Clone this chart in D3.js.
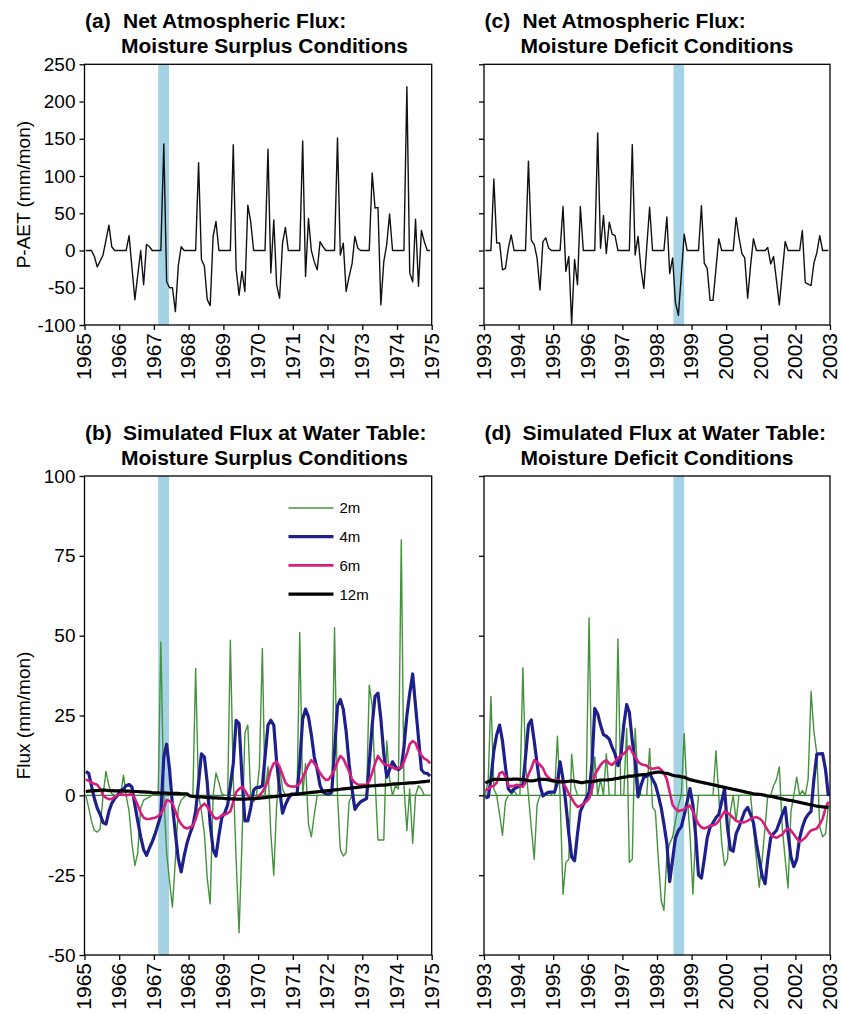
<!DOCTYPE html>
<html>
<head>
<meta charset="utf-8">
<script src="https://cdn.jsdelivr.net/npm/d3@7"></script>
<style>
body { margin: 0; background: #fff; }
svg { display: block; }
</style>
</head>
<body>
<script>
// tick labels / categories
const surplusYears = [1965, 1966, 1967, 1968, 1969, 1970, 1971, 1972, 1973, 1974, 1975];
const deficitYears = [1993, 1994, 1995, 1996, 1997, 1998, 1999, 2000, 2001, 2002, 2003];
const netFluxTicks = [-100, -50, 0, 50, 100, 150, 200, 250];
const waterTableTicks = [-50, -25, 0, 25, 50, 75, 100];
const depthLabels = ["2m", "4m", "6m", "12m"];
const surplusBand = ["1967-02-15", "1967-06-09"];
const deficitBand = ["1998-06-24", "1998-10-15"];

// monthly P-AET (mm/mon), one row per year
const surplusNet = [
  0, 0, 0, -8, -22, -14, -6, 14, 34, 5, 0, 0,
  0, 0, 0, 20, -23, -66, -33, 0, -46, 8, 5, 0,
  0, 0, 0, 143, -42, -50, -50, -82, -20, 5, 0, 0,
  0, 0, 0, 118, -12, -21, -66, -74, 19, 39, 0, 0,
  0, 0, 0, 142, -25, -60, -28, -55, 61, 39, 0, 0,
  0, 0, 0, 136, -30, 41, -46, -64, 10, 31, 0, 0,
  0, 0, 0, 147, -35, 43, 0, -15, -26, 12, 5, 0,
  0, 0, 0, 151, -6, 10, -55, -35, -18, 19, 3, 0,
  0, 0, 0, 104, 57, 58, -73, -15, 8, 49, 0, 0,
  0, 0, 0, 220, -30, -42, 42, -48, 27, 12, 0, 0
];
const deficitNet = [
  0, 0, 0, 96, 10, 10, -26, -24, 3, 21, 0, 0,
  0, 0, 0, 120, 14, 8, -10, -53, 12, 17, 3, 0,
  0, 0, 0, 59, -28, -8, -99, -12, -46, 59, 0, 0,
  0, 0, 0, 158, 3, 47, -4, 38, 22, 20, 0, 0,
  0, 0, 0, 142, -6, 19, -24, -51, 5, 58, 0, 0,
  0, 0, 0, 45, -31, -10, -70, -87, -32, 22, 0, 0,
  0, 0, 0, 60, -17, -24, -67, -67, -25, 16, 0, 0,
  0, 0, 0, 44, 18, -4, -10, -64, -20, 16, 0, 0,
  0, 0, 4, -18, -8, -40, -73, -30, 12, 0, 0, 0,
  0, 0, 27, -43, -45, -47, -17, -3, 20, 0, 0, 0
];

// simulated flux at water table (mm/mon), surplus period 1965-1974
const surplus2m = [
  0, -4, -8, -11, -11.5, -10.5, 0, 7.5, 3, 0.5, 0, 0,
  0, 6.3, 0, -5, -15, -22, -18, -4, -1.5, -1, -0.5, 0,
  0, 0, 48, 0, -18, -27, -35, -20, -4, -1.5, -0.5, 0,
  0, 0, 39.7, 0, -5, -12, -26, -34, 0, 7, 4, 0.5,
  0, 0, 48.6, 5, -20, -43, -15, 19.5, 22, 0, -2, 0,
  9, 46, 0, 9, -12, -25, -3, 9, 2, 0, 0, 0,
  0, 0, 51, 0, 10, -9, -13, -6, 0, 0, 0, 0,
  0, 0, 52.5, 0, -17, -19, -18, -2, 0, 0, 0, 0,
  0, 0, 34.5, 28, 5, -14, -14, -14, 17, 5, 0, 3,
  2, 80, 3, -11, 2, -15, 0, 3, 2, 0, 0, 0
];
const surplus4m = [
  7.5, 6.8, 3, -1, -4, -6, -8.5, -9, -5, -2.5, -1, 0,
  1.5, 2, 3, 3.4, 2.6, -3, -8, -13, -17, -18.8, -16.5, -14.5,
  -12, -9, -6, 12, 16, 8, -3, -12, -20, -24, -19, -15,
  -12, -9.5, -5, 4, 13, 12, 4, -9, -17, -19, -12.5, -7,
  -5.5, -3, 3, 10, 23.5, 22.5, 6, -8, -8, -4, 1.6, 2.5,
  2.5, 3, 12, 22, 23.5, 22, 10.5, 2, -5.6, -3, -1, 0.4,
  0.4, 0.5, 10, 24, 27, 24.5, 19, 12, 8, 3, 1, 0.5,
  0.4, 1, 14, 28, 30, 27, 20, 10, 2, -4.4, -3, -2,
  -1.5, -1, 10, 22, 31, 32, 24, 13, 5.7, 8, 10.5, 9,
  8, 8.7, 15, 25, 32, 38, 28, 18, 8, 7, 6.9, 6
];
const surplus6m = [
  5, 4.5, 4, 3.6, 3.3, 2, 0, -0.8, -1.2, -1.2, -0.4, 0,
  0.4, 0.2, 0, 0.2, 0.4, -1, -3, -5.5, -7, -7.4, -7.4, -7.2,
  -7, -6.5, -5.8, -4, -1.5, -1.8, -2.5, -5, -7.5, -9, -10, -10.4,
  -10, -9.5, -7.5, -4.5, -3.5, -2.6, -3.5, -5, -6.5, -7.4, -7, -6.2,
  -6, -5.6, -5, -2, 1, 2, 2.7, 1.5, 0, -1.2, -1.2, -0.8,
  0, 1, 2.5, 4.5, 8, 10, 10.5, 9, 6.5, 4, 3, 2.8,
  2.7, 3, 3.8, 5.5, 7.5, 9.5, 11, 10, 8.7, 7, 5.7, 4.8,
  5, 6.5, 8, 10.5, 12.3, 11.5, 9.5, 7.5, 5, 4, 3.4, 3.3,
  3.3, 3.4, 4.5, 7, 10, 12.3, 11, 9.9, 9.5, 9.3, 8.8, 8.2,
  8.5, 8.7, 10.5, 13, 16, 17, 16.4, 14, 12.5, 11.5, 11, 10
];
const surplus12m = [
  1.2, 1.3, 1.4, 1.5, 1.5, 1.6, 1.6, 1.6, 1.5, 1.5, 1.4, 1.4,
  1.4, 1.3, 1.3, 1.3, 1.2, 1.2, 1.2, 1.1, 1.1, 1.0, 1.0, 0.8,
  0.8, 0.8, 0.7, 0.7, 0.7, 0.6, 0.6, 0.6, 0.6, 0.5, 0.5, 0.5,
  -0.2, -0.3, -0.4, -0.5, -0.5, -0.6, -0.7, -0.7, -0.8, -0.8, -0.9, -0.9,
  -1.0, -1.0, -1.1, -1.1, -1.2, -1.2, -1.2, -1.2, -1.1, -1.1, -1.0, -1.0,
  -0.9, -0.8, -0.7, -0.6, -0.5, -0.4, -0.3, -0.2, -0.1, 0.0, 0.1, 0.2,
  0.3, 0.4, 0.5, 0.6, 0.7, 0.8, 0.9, 1.0, 1.1, 1.2, 1.3, 1.4,
  1.5, 1.6, 1.7, 1.8, 1.9, 2.0, 2.1, 2.2, 2.3, 2.4, 2.5, 2.6,
  2.7, 2.8, 2.9, 3.0, 3.0, 3.1, 3.2, 3.2, 3.3, 3.4, 3.5, 3.6,
  3.6, 3.7, 3.7, 3.8, 3.9, 3.9, 4.0, 4.1, 4.2, 4.3, 4.4, 4.5
];

// simulated flux at water table (mm/mon), deficit period 1993-2002
const deficit2m = [
  0, 5, 31, 2, 0, -6, -12.5, -2, 0, 0, 1.5, 0,
  0, 40, 10, 0, -10, -20, -3, 0, 0, 0, 1, 0,
  0, 18.5, 0, -31, -21, -20, 12.9, 3, 0, 0, 0, 0,
  55.6, 0, 12, 0, 5, 0, 13, 0, 0, 0, 49, 0,
  0, 21, -21, -20, 21, 5, 0, 0, 0, 14.7, -3.7, -5,
  -20, -33, -36, -19, -15, -13, -8, -3, 0, 19.4, 0, -12,
  -31, -10, 0, 0, 0, 0, 0, 0, 14, 0, -15, -22,
  -20, -5, 0, -8, 0, 0, 0, 0, 0, -10, -20, -28.8,
  -20, -9.9, 0, 0, 3, 5, 8.9, -10, -20, -29, -5, 0,
  5.7, 0, 1.5, 0, 5, 32.5, 20, 13, -9.9, -13, -12, -3
];
const deficit4m = [
  -0.8, -0.5, 5, 14, 19, 22, 17, 9, 2, 1, 2, 2.5,
  3, 3.3, 12, 22, 23.6, 17, 10, 3, -0.2, 0.5, 1, 1,
  1, 4, 10.5, 5, -2.6, -12, -19.3, -20.5, -12, -5, -3, -1,
  1, 10, 27.2, 25.5, 22, 19, 18.5, 17.6, 15, 13, 9.3, 12,
  22, 28.4, 26, 17, 10.5, -0.5, 3, 5.7, 6, 6.9, 5, 3.3,
  0, -4, -9, -15, -27, -20, -13.3, -11, -9.8, -6.2, -2, 2.1,
  -3, -13.3, -25, -25.9, -20, -13.3, -10, -8.6, -7, -6, -2, 2.1,
  -10, -17, -17.5, -12, -10, -7.4, -5, -3.8, -6, -8.6, -15, -20,
  -25.3, -27.7, -20, -13.3, -12, -11, -8.6, -6, -3.8, -12, -19.3, -22.3,
  -20, -13.3, -10, -7.4, -6, -5, 5, 12.9, 13, 13.1, 8, -0.2
];
const deficit6m = [
  1.5, 2, 2.7, 3, 4, 6.9, 7.3, 6, 3, 2.8, 3, 3.3,
  3, 2.7, 4, 6.5, 8.5, 11, 10.5, 9.5, 8.5, 6.5, 5.5, 4.8,
  4.8, 4.8, 4.5, 4, 2.5, 0.5, -1, -2.5, -3.6, -3.3, -2.7, -2,
  -1, 2, 6.5, 8, 9.5, 10.5, 11, 10, 9.5, 10.5, 11.7, 12.5,
  13, 14, 15.3, 13.5, 12, 10.5, 9.8, 9.5, 9.3, 8.5, 8.3, 8.5,
  8.7, 8, 7, 5, 1, -3, -4.2, -5, -4.7, -4.4, -3.6, -3.2,
  -5, -7.4, -9, -10, -10.4, -10, -9.5, -9.4, -9, -8, -6.5, -5,
  -5.5, -6.2, -7, -8, -8.3, -8.5, -8.4, -8, -7.4, -7, -6.8, -7.2,
  -8, -9.5, -11, -12.3, -13, -13.3, -12.8, -12.3, -11, -10.4, -11, -12.2,
  -13.5, -14.5, -14, -13.3, -12, -11, -10.7, -10.4, -9, -7.4, -4, -2
];
const deficit12m = [
  3.9, 4.3, 4.7, 5, 5, 5, 5, 5, 5, 5, 5.1, 5.1,
  5, 5, 4.8, 4.6, 4.5, 4.6, 4.8, 5, 5, 5, 4.8, 4.6,
  4.4, 4.3, 4.2, 4.2, 4.3, 4.4, 4.5, 4.4, 4.2, 4, 4, 4.2,
  4.3, 4.3, 4.4, 4.6, 4.8, 4.8, 4.8, 4.9, 5, 5.2, 5.3, 5.5,
  5.7, 5.8, 6, 6, 6.2, 6.3, 6.4, 6.5, 6.6, 6.8, 7, 7.2,
  7.3, 7.2, 7, 6.9, 6.6, 6.3, 6.1, 6, 5.8, 5.7, 5.3, 4.9,
  4.7, 4.5, 4.3, 4.1, 3.9, 3.7, 3.5, 3.3, 3.1, 2.9, 2.7, 2.5,
  2.3, 2.1, 1.9, 1.7, 1.5, 1.3, 1.1, 0.9, 0.7, 0.5, 0.4, 0.3,
  0.2, 0, -0.2, -0.3, -0.5, -0.7, -0.9, -1.1, -1.3, -1.5, -1.6, -1.8,
  -2, -2.2, -2.4, -2.6, -2.8, -3, -3.2, -3.4, -3.5, -3.6, -3.7, -3.8
];

// layout
const colLeft = [84.5, 431.7];
const colRight = [484, 830];
const rowTop = [64.3, 325];
const rowBottom = [476, 955];

const depthStyle = {
  "2m": {color: "#44933c", width: 1.4},
  "4m": {color: "#1f1f8c", width: 3.2},
  "6m": {color: "#d61f7c", width: 2.6},
  "12m": {color: "#000000", width: 3.2}
};
const netStyle = {color: "#111111", width: 1.4};

const parseDay = d3.timeParse("%Y-%m-%d");

const svg = d3.select("body").append("svg")
    .attr("width", 841)
    .attr("height", 1015)
    .style("font-family", '"Liberation Sans", Arial, Helvetica, sans-serif');


function monthly(startYear, values) {
    return values.map(function(v, i) { return {date: new Date(startYear, i, 15), value: v}; });
}


function drawPanel(p) {

    var left = p.col[0], right = p.col[1], top = p.row[0], bottom = p.row[1];

    var x = d3.scaleTime()
    .domain([new Date(p.years[0], 0, 1), new Date(p.years[p.years.length - 1], 0, 1)])
    .range([left, right]);

    var y = d3.scaleLinear()
    .domain(d3.extent(p.ticks))
    .range([bottom, top]);

    var g = svg.append("g");

    // highlighted period
    g.append("rect")
    .attr("x", x(parseDay(p.band[0])))
    .attr("y", top)
    .attr("width", x(parseDay(p.band[1])) - x(parseDay(p.band[0])))
    .attr("height", bottom - top)
    .attr("fill", "#a6d2e6");

    if (p.zeroLine) {
        g.append("line")
        .attr("x1", left).attr("x2", right)
        .attr("y1", y(0)).attr("y2", y(0))
        .attr("stroke", "#3b7f34")
        .attr("stroke-width", 1.2);
    }

    var line = d3.line()
    .x(function(d) { return x(d.date); })
    .y(function(d) { return y(d.value); });

    p.series.forEach(function(s) {
        g.append("path")
        .datum(monthly(p.years[0], s.values))
        .attr("fill", "none")
        .attr("stroke", s.style.color)
        .attr("stroke-width", s.style.width)
        .attr("stroke-linejoin", "round")
        .attr("d", line);
    });

    g.append("rect")
    .attr("x", left).attr("y", top)
    .attr("width", right - left).attr("height", bottom - top)
    .attr("fill", "none")
    .attr("stroke", "#000")
    .attr("stroke-width", 1.3);

    var gx = g.append("g")
    .attr("transform", "translate(0," + bottom + ")")
    .call(d3.axisBottom(x)
        .tickValues(p.years.map(function(yr) { return new Date(yr, 0, 1); }))
        .tickFormat(d3.timeFormat("%Y"))
        .tickSize(5)
        .tickSizeOuter(0));
    gx.attr("font-family", null).attr("font-size", null);
    gx.select(".domain").remove();
    gx.selectAll(".tick line").attr("stroke", "#000").attr("stroke-width", 1.3);
    gx.selectAll(".tick text")
    .attr("transform", "rotate(-90)")
    .attr("x", -8)
    .attr("y", 0)
    .attr("dy", "0.3em")
    .attr("text-anchor", "end")
    .attr("fill", "#000")
    .style("font-size", "21px");

    var gy = g.append("g")
    .attr("transform", "translate(" + left + ",0)")
    .call(d3.axisLeft(y)
        .tickValues(p.ticks)
        .tickSize(5)
        .tickPadding(4)
        .tickSizeOuter(0)
        .tickFormat(p.tickLabels ? function(d) { return String(d); } : ""));
    gy.attr("font-family", null).attr("font-size", null);
    gy.select(".domain").remove();
    gy.selectAll(".tick line").attr("stroke", "#000").attr("stroke-width", 1.3);
    gy.selectAll(".tick text").attr("fill", "#000").style("font-size", "19px");

    if (p.yLabel) {
        svg.append("text")
        .attr("transform", "translate(30," + ((top + bottom) / 2) + ") rotate(-90)")
        .attr("text-anchor", "middle")
        .style("font-size", "19px")
        .text(p.yLabel);
    }

    // two-line bold title with hanging panel letter
    var title = svg.append("g").style("font-size", "21px").style("font-weight", "bold");
    title.append("text").attr("x", left + 0.5).attr("y", top - 36.5).text(p.letter);
    title.append("text").attr("x", left + 38.5).attr("y", top - 36.5).text(p.title[0]);
    title.append("text").attr("x", left + 36.5).attr("y", top - 11.5).text(p.title[1]);

    if (p.legend) {
        var lg = svg.append("g").attr("transform", "translate(" + (left + 204) + "," + (top + 32) + ")");
        p.series.forEach(function(s, i) {
            var row = lg.append("g").attr("transform", "translate(0," + (i * 28.7) + ")");
            row.append("line")
            .attr("x1", 0).attr("x2", 45)
            .attr("stroke", s.style.color)
            .attr("stroke-width", s.style.width);
            row.append("text")
            .attr("x", 51).attr("dy", "0.36em")
            .style("font-size", "15px")
            .text(s.label);
        });
    }
}


drawPanel({
    col: colLeft, row: rowTop, years: surplusYears, ticks: netFluxTicks, band: surplusBand,
    tickLabels: true, yLabel: "P-AET (mm/mon)",
    letter: "(a)", title: ["Net Atmospheric Flux:", "Moisture Surplus Conditions"],
    series: [{label: "P-AET", values: surplusNet, style: netStyle}]
});

drawPanel({
    col: colRight, row: rowTop, years: deficitYears, ticks: netFluxTicks, band: deficitBand,
    tickLabels: false,
    letter: "(c)", title: ["Net Atmospheric Flux:", "Moisture Deficit Conditions"],
    series: [{label: "P-AET", values: deficitNet, style: netStyle}]
});

var surplusDepths = [surplus2m, surplus4m, surplus6m, surplus12m];
var deficitDepths = [deficit2m, deficit4m, deficit6m, deficit12m];

drawPanel({
    col: colLeft, row: rowBottom, years: surplusYears, ticks: waterTableTicks, band: surplusBand,
    tickLabels: true, yLabel: "Flux (mm/mon)", zeroLine: true, legend: true,
    letter: "(b)", title: ["Simulated Flux at Water Table:", "Moisture Surplus Conditions"],
    series: depthLabels.map(function(lab, i) { return {label: lab, values: surplusDepths[i], style: depthStyle[lab]}; })
});

drawPanel({
    col: colRight, row: rowBottom, years: deficitYears, ticks: waterTableTicks, band: deficitBand,
    tickLabels: false, zeroLine: true,
    letter: "(d)", title: ["Simulated Flux at Water Table:", "Moisture Deficit Conditions"],
    series: depthLabels.map(function(lab, i) { return {label: lab, values: deficitDepths[i], style: depthStyle[lab]}; })
});
</script>
</body>
</html>
